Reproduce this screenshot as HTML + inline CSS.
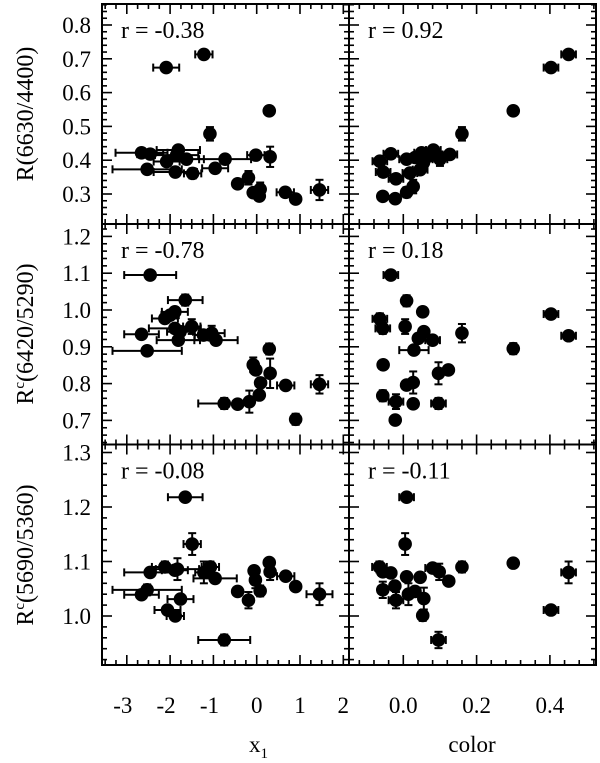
<!DOCTYPE html>
<html><head><meta charset="utf-8"><style>
html,body{margin:0;padding:0;background:#fff;}
svg{display:block;font-family:"Liberation Serif",serif;}
</style></head><body>
<svg id="fig" width="600" height="763" viewBox="0 0 600 763" xmlns="http://www.w3.org/2000/svg">
<text x="249" y="752" font-size="23" font-family="Liberation Serif, serif">x<tspan font-size="15" dy="6">1</tspan></text>
<text x="472" y="752" font-size="23" text-anchor="middle" font-family="Liberation Serif, serif">color</text>
</svg>
<script>
// ---- data ----
const x1TL=[-2.09,-1.22,0.29,-1.08,-2.66,-2.46,-1.81,-1.85,-2.08,-1.62,-0.02,0.31,-0.73,-2.53,-1.88,-1.48,-0.96,-0.19,-0.44,0.08,-0.08,0.06,0.66,0.90,1.45];
const rTL=[0.674,0.713,0.546,0.478,0.422,0.418,0.430,0.415,0.396,0.403,0.415,0.410,0.403,0.373,0.365,0.361,0.376,0.348,0.330,0.314,0.304,0.294,0.305,0.285,0.312];
const xeTL=[0.3,0.2,0,0,0.6,0.3,0.5,0.5,0.3,0.4,0.2,0,0.6,0.8,0.5,0.2,0.3,0,0,0,0,0,0.2,0,0.2];
const yeTL=[0,0,0.01,0.02,0,0,0,0.015,0,0,0,0.03,0.01,0,0,0.015,0.01,0.02,0,0.02,0,0.01,0,0.01,0.03];

const cTR=[0.403,0.451,0.300,0.160,-0.034,-0.064,0.009,-0.055,-0.020,-0.056,-0.022,0.009,0.027,0.050,0.082,0.100,0.127,0.046,0.018,0.032,0.068,0.055];
const rTR=[0.674,0.713,0.546,0.478,0.419,0.397,0.403,0.365,0.345,0.293,0.286,0.305,0.322,0.422,0.430,0.403,0.417,0.372,0.362,0.408,0.412,0.393];
const xeTR=[0.02,0.02,0,0,0.02,0.02,0.02,0.02,0.02,0,0,0,0,0.02,0.02,0.02,0.02,0.02,0.02,0,0.02,0];
const yeTR=[0,0,0.01,0.02,0,0.01,0.01,0,0.01,0.01,0.01,0.015,0.02,0,0.01,0.02,0,0,0,0,0,0];

const x1ML=[-2.46,-1.65,-2.12,-2.00,-1.89,-2.66,-2.53,-1.89,-1.50,-1.77,-1.81,-1.23,-1.04,-0.94,0.29,-0.08,-0.02,0.31,0.09,0.67,1.45,-0.75,-0.44,-0.17,0.06,0.90];
const rML=[1.095,1.027,0.977,0.986,0.995,0.934,0.889,0.950,0.955,0.941,0.918,0.932,0.937,0.918,0.894,0.851,0.837,0.828,0.802,0.795,0.798,0.746,0.744,0.751,0.769,0.703];
const xeML=[0.6,0.4,0.3,0.2,0.3,0.4,0.8,0.6,0.2,0.3,0.5,0.2,0.3,0.5,0,0.1,0,0,0,0.2,0.2,0.6,0,0,0,0];
const yeML=[0,0.015,0,0,0,0,0,0,0.02,0,0,0,0.02,0,0.015,0.02,0,0.04,0,0,0.025,0.015,0,0.03,0,0.015];

const cMR=[-0.034,0.009,0.053,-0.064,-0.056,0.005,0.056,0.041,0.080,0.160,0.029,0.403,0.451,0.300,-0.055,0.096,0.123,0.009,0.027,-0.056,-0.020,0.027,0.096,-0.022];
const rMR=[1.095,1.025,0.995,0.976,0.950,0.955,0.941,0.923,0.918,0.937,0.891,0.989,0.930,0.895,0.851,0.828,0.837,0.796,0.803,0.767,0.751,0.745,0.746,0.701];
const xeMR=[0.02,0.01,0,0.02,0.02,0.01,0,0,0.02,0,0.04,0.02,0.02,0,0,0.01,0,0,0,0,0.02,0,0.02,0];
const yeMR=[0,0.015,0,0.015,0.015,0.02,0,0,0,0.025,0,0,0,0.015,0,0.03,0,0,0.03,0.015,0.02,0,0.015,0.01];

const x1BL=[-1.65,-1.49,-2.46,-2.12,-1.83,-1.89,-1.22,-1.07,-0.96,-2.53,-2.66,-1.76,-2.06,-1.88,-0.75,-0.44,-0.19,-0.06,-0.03,0.08,0.29,0.31,0.67,0.90,1.45];
const rBL=[1.218,1.132,1.080,1.090,1.086,1.084,1.080,1.090,1.069,1.048,1.039,1.031,1.011,1.000,0.956,1.045,1.029,1.083,1.066,1.046,1.098,1.081,1.073,1.054,1.040];
const xeBL=[0.4,0.2,0.6,0.3,0.5,0.3,0.2,0.2,0.5,0.8,0.4,0.3,0.3,0.2,0.6,0,0,0,0.1,0,0,0,0.2,0,0.3];
const yeBL=[0,0.02,0,0.01,0.02,0,0.02,0.01,0,0.01,0,0,0,0,0.01,0,0.015,0,0.015,0.01,0,0.015,0,0,0.02];

const cBR=[0.009,0.005,-0.065,-0.056,-0.034,0.009,0.046,0.080,0.098,0.124,0.160,-0.056,-0.023,-0.020,0.014,0.032,0.056,0.053,0.096,0.300,0.403,0.451];
const rBR=[1.218,1.132,1.090,1.081,1.079,1.072,1.071,1.088,1.081,1.064,1.090,1.048,1.055,1.029,1.040,1.045,1.032,1.001,0.956,1.097,1.011,1.080];
const xeBR=[0.02,0.01,0.02,0.01,0.01,0,0,0.02,0,0,0,0,0,0.02,0,0,0,0,0.02,0,0.02,0.02];
const yeBR=[0,0.02,0.01,0,0,0,0,0,0.015,0,0.01,0.015,0,0.015,0.02,0,0.02,0.01,0.015,0,0,0.02];

const x1Ticks=[-3,-2,-1,0,1,2];
const colorTicks=[0.0,0.2,0.4];
const yTicksTop=[0.3,0.4,0.5,0.6,0.7,0.8];
const yTicksMid=[0.7,0.8,0.9,1.0,1.1,1.2];
const yTicksBot=[1.0,1.1,1.2,1.3];
const rLabels=["r = -0.38","r = 0.92","r = -0.78","r = 0.18","r = -0.08","r = -0.11"];

// ---- layout / scales ----
const NS="http://www.w3.org/2000/svg";
const svg=document.getElementById('fig');
const L=102,M=349,R=596;
const rows=[[4,224],[224,444.5],[444.5,665]];
const sx1=v=>256.7+43.3*v;
const sc=v=>403.3+366.5*v;
const syT=v=>194-338*(v-0.3);
const syM=v=>310-368*(v-1.0);
const syB=v=>616-545*(v-1.0);
function mk(tag,attrs,parent){const e=document.createElementNS(NS,tag);for(const k in attrs)e.setAttribute(k,attrs[k]);(parent||svg).appendChild(e);return e;}

function ticksX(g,x0,x1,y0,y1,sx,start,end,minor,majors){
  const n=Math.round((end-start)/minor);
  for(let i=0;i<=n;i++){const v=start+i*minor;const X=sx(v);if(X<x0+0.5||X>x1-0.5)continue;
    const maj=majors.some(m=>Math.abs(m-v)<1e-6);const len=maj?10:5;
    mk('line',{x1:X,y1:y1,x2:X,y2:y1-len,stroke:'#000','stroke-width':1.6},g);
    mk('line',{x1:X,y1:y0,x2:X,y2:y0+len,stroke:'#000','stroke-width':1.6},g);}
}
function ticksY(g,x0,x1,y0,y1,sy,start,end,minor,majors){
  const n=Math.round((end-start)/minor);
  for(let i=0;i<=n;i++){const v=start+i*minor;const Y=sy(v);if(Y<y0+0.5||Y>y1-0.5)continue;
    const maj=majors.some(m=>Math.abs(m-v)<1e-6);const len=maj?10:5;
    mk('line',{x1:x0,y1:Y,x2:x0+len,y2:Y,stroke:'#000','stroke-width':1.6},g);
    mk('line',{x1:x1,y1:Y,x2:x1-len,y2:Y,stroke:'#000','stroke-width':1.6},g);}
}
function points(g,xs,ys,xe,ye,sx,sy,name){
  for(let i=0;i<xs.length;i++){
    const X=sx(xs[i]),Y=sy(ys[i]);
    const pg=mk('g',{},g);
    
    
    if(xe[i]>0){const a=sx(xs[i]-xe[i]),b=sx(xs[i]+xe[i]);
      mk('line',{x1:a,y1:Y,x2:b,y2:Y,stroke:'#000','stroke-width':2},pg);
      mk('line',{x1:a,y1:Y-4,x2:a,y2:Y+4,stroke:'#000','stroke-width':2},pg);
      mk('line',{x1:b,y1:Y-4,x2:b,y2:Y+4,stroke:'#000','stroke-width':2},pg);}
    if(ye[i]>0){const a=sy(ys[i]-ye[i]),b=sy(ys[i]+ye[i]);
      mk('line',{x1:X,y1:a,x2:X,y2:b,stroke:'#000','stroke-width':2},pg);
      mk('line',{x1:X-4,y1:a,x2:X+4,y2:a,stroke:'#000','stroke-width':2},pg);
      mk('line',{x1:X-4,y1:b,x2:X+4,y2:b,stroke:'#000','stroke-width':2},pg);}
    mk('circle',{cx:X,cy:Y,r:6.8,fill:'#000'},pg);
  }
}
const panels=[
 {x0:L,x1:M,r:0,sx:sx1,sy:syT,xs:x1TL,ys:rTL,xe:xeTL,ye:yeTL,name:'panel-x1-r6630',col:0,yt:[0.24,0.88,yTicksTop]},
 {x0:M,x1:R,r:0,sx:sc,sy:syT,xs:cTR,ys:rTR,xe:xeTR,ye:yeTR,name:'panel-color-r6630',col:1,yt:[0.24,0.88,yTicksTop]},
 {x0:L,x1:M,r:1,sx:sx1,sy:syM,xs:x1ML,ys:rML,xe:xeML,ye:yeML,name:'panel-x1-r6420',col:0,yt:[0.64,1.24,yTicksMid]},
 {x0:M,x1:R,r:1,sx:sc,sy:syM,xs:cMR,ys:rMR,xe:xeMR,ye:yeMR,name:'panel-color-r6420',col:1,yt:[0.64,1.24,yTicksMid]},
 {x0:L,x1:M,r:2,sx:sx1,sy:syB,xs:x1BL,ys:rBL,xe:xeBL,ye:yeBL,name:'panel-x1-r5690',col:0,yt:[0.9,1.32,yTicksBot]},
 {x0:M,x1:R,r:2,sx:sc,sy:syB,xs:cBR,ys:rBR,xe:xeBR,ye:yeBR,name:'panel-color-r5690',col:1,yt:[0.9,1.32,yTicksBot]},
];
panels.forEach((p,k)=>{
  const [y0,y1]=rows[p.r];
  const g=mk('g',{});
  
  
  if(p.col===0) ticksX(g,p.x0,p.x1,y0,y1,p.sx,-3.75,2.25,0.25,x1Ticks);
  else ticksX(g,p.x0,p.x1,y0,y1,p.sx,-0.16,0.56,0.04,colorTicks);
  ticksY(g,p.x0,p.x1,y0,y1,p.sy,Math.round(p.yt[0]*50)/50,p.yt[1],0.02,p.yt[2]);
  mk('rect',{x:p.x0,y:y0,width:p.x1-p.x0,height:y1-y0,fill:'none',stroke:'#000','stroke-width':2},g);
  const t=mk('text',{x:p.x0+19,y:y0+34,'font-size':24},g);
  t.textContent=rLabels[k];
  
  
  points(g,p.xs,p.ys,p.xe,p.ye,p.sx,p.sy,p.name);
  if(p.col===0){
    p.yt[2].forEach(v=>{const tt=mk('text',{x:91,y:p.sy(v)+8,'font-size':23,'text-anchor':'end'});
      tt.textContent=v.toFixed(1);
      
      });
  }
});
x1Ticks.forEach(v=>{const t=mk('text',{x:sx1(v)-(v<0?4:0),y:713,'font-size':23,'text-anchor':'middle'});
  t.textContent=String(v);
  
  });
colorTicks.forEach(v=>{const t=mk('text',{x:sc(v),y:713,'font-size':23,'text-anchor':'middle'});
  t.textContent=v.toFixed(1);
  
  });

[['R(6630/4400)',114,'y-axis-title-top',null],['(6420/5290)',334,'y-axis-title-middle','R'],['(5690/5360)',555,'y-axis-title-bottom','R']].forEach(a=>{
  const t=document.createElementNS(NS,'text');
  t.setAttribute('transform','translate(33,'+a[1]+') rotate(-90)');
  t.setAttribute('text-anchor','middle');
  t.setAttribute('font-size','24');
  
  
  if(a[3]){t.innerHTML='R<tspan font-size="15" dy="-9">c</tspan><tspan dy="9">'+a[0]+'</tspan>';}
  else t.textContent=a[0];
  svg.appendChild(t);
});
</script>
</body></html>
